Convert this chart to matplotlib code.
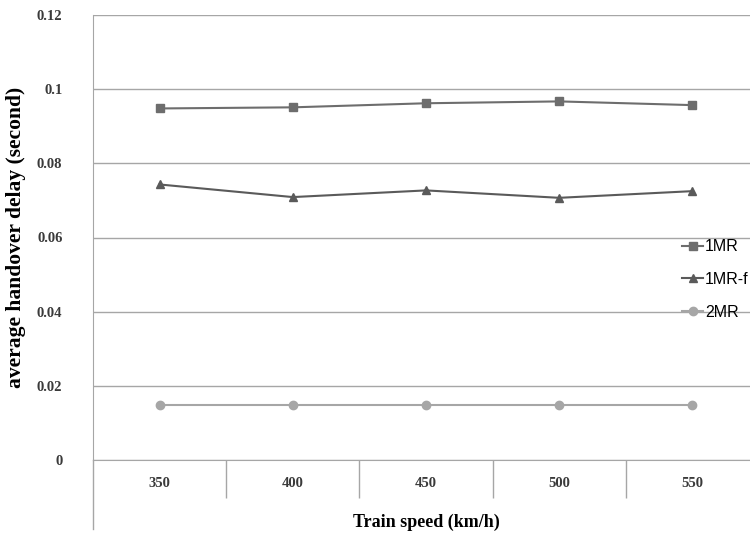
import numpy as np
import matplotlib
matplotlib.use('Agg')
import matplotlib.pyplot as plt

# train speeds (categories) and handover delay for each scheme
speeds = ['350', '400', '450', '500', '550']
mr1 = [0.0948, 0.0951, 0.0962, 0.0967, 0.0957]
mr1_f = [0.0743, 0.0709, 0.0727, 0.0707, 0.0725]
mr2 = [0.0147, 0.0147, 0.0147, 0.0147, 0.0147]

fig = plt.figure(figsize=(7.5, 5.34), dpi=100)
ax = fig.add_axes([93/750, 1-460/534, 666/750, 445/534])

x = np.arange(len(speeds))
ax.plot(x, mr1, color='#6d6d6d', marker='s', ms=6, lw=1.5, label='1MR')
ax.plot(x, mr1_f, color='#5a5a5a', marker='^', ms=6, lw=1.5, label='1MR-f')
ax.plot(x, mr2, color='#a6a6a6', marker='o', ms=6, lw=1.5, label='2MR')

ax.set_xlim(-0.5, len(speeds)-0.5)
ax.set_ylim(0, 0.12)
ax.set_yticks(np.arange(0, 0.121, 0.02))
ax.set_yticklabels(['0', '0.02', '0.04', '0.06', '0.08', '0.1', '0.12'],
                   family='Liberation Serif', fontsize=10.5, fontweight='bold', color='#3a3a3a')
ax.yaxis.grid(True, color='#a6a6a6', lw=1)
ax.set_axisbelow(True)
ax.tick_params(axis='y', length=0, pad=22)

ax.set_xticks(x)
ax.set_xticklabels(speeds, family='Liberation Serif', fontsize=10.5, fontweight='bold', color='#3a3a3a')
ax.set_xticks(np.arange(0.5, len(speeds)-0.5), minor=True)
ax.tick_params(axis='x', which='major', length=0, pad=12)
ax.tick_params(axis='x', which='minor', length=27, color='#a6a6a6', width=1)

for s in ['top', 'right']:
    ax.spines[s].set_visible(False)
ax.spines['bottom'].set_color('#a6a6a6')
ax.spines['left'].set_color('#a6a6a6')
# left axis line carries on below the category labels
ax.plot([-0.5, -0.5], [0, -0.0185], color='#a6a6a6', lw=1, clip_on=False)

ax.set_ylabel('average handover delay (second)', family='Liberation Serif',
              fontsize=15.5, fontweight='bold', labelpad=8)
ax.set_xlabel('Train speed (km/h)', family='Liberation Serif',
              fontsize=13, fontweight='bold', labelpad=8)

fig.legend(loc='upper left', bbox_to_anchor=(676/750, 1-233/534), frameon=False,
           prop={'family': 'Liberation Sans', 'size': 11.5}, handlelength=1.3,
           handletextpad=0.1, labelspacing=1.1, borderaxespad=0)

fig.savefig('out.png', dpi=100)
